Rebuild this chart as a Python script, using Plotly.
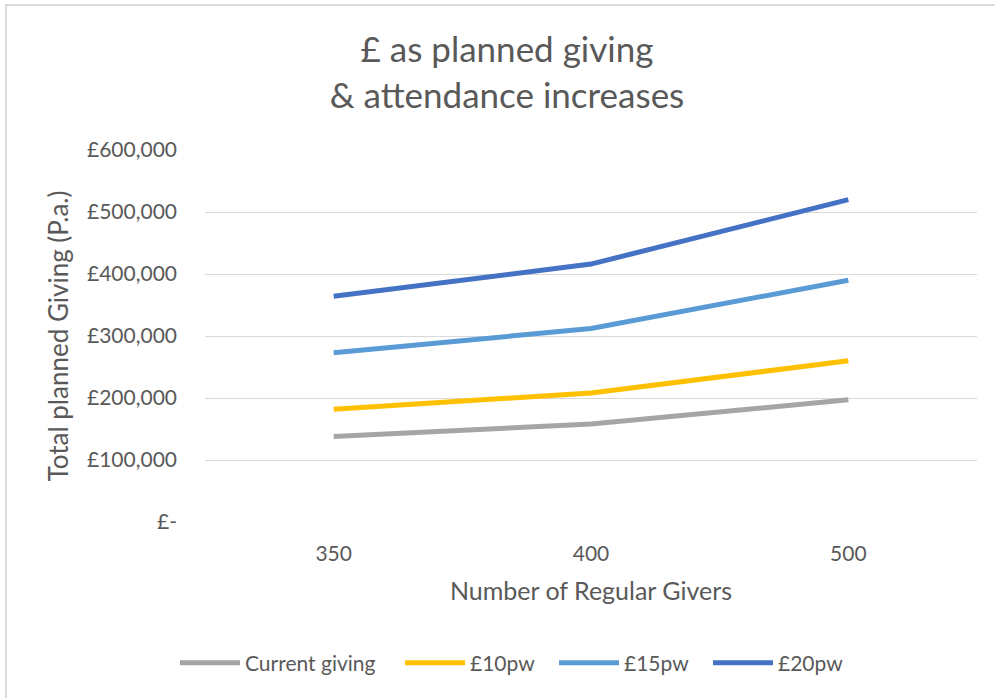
import plotly.graph_objects as go

categories = ["350", "400", "500"]
series_names = ["Current giving", "£10pw", "£15pw", "£20pw"]
current_giving = [138000, 158000, 197000]
pw10 = [182000, 208000, 260000]
pw15 = [273000, 312000, 390000]
pw20 = [364000, 416000, 520000]
colors = ["#A5A5A5", "#FFC000", "#5B9BD5", "#4472C4"]
y_tickvals = [0, 100000, 200000, 300000, 400000, 500000, 600000]
y_ticktext = ["£-", "£100,000", "£200,000", "£300,000", "£400,000", "£500,000", "£600,000"]

FONT = "Lato"
TXT = "#595959"

W, H = 995, 698
L, R, T, B = 205, 18, 150, 176
pw_ = W - L - R
ph_ = H - T - B


def px2paper_x(px):
    return (px - L) / pw_


def px2paper_y(py):
    return (H - B - py) / ph_


legend_ids = ["legend", "legend2", "legend3", "legend4"]
legend_px = [175, 400, 554, 708]

fig = go.Figure()
for name, vals, c, lg in zip(series_names, [current_giving, pw10, pw15, pw20], colors, legend_ids):
    fig.add_trace(go.Scatter(x=categories, y=vals, mode="lines", name=name,
                             line=dict(color=c, width=5), legend=lg))

fig.add_shape(type="rect", xref="paper", yref="paper",
              x0=px2paper_x(6), y0=px2paper_y(5), x1=px2paper_x(1010), y1=px2paper_y(720),
              line=dict(color="#D9D9D9", width=2), fillcolor="rgba(0,0,0,0)", layer="below")

legend_cfg = {}
for lg, lx in zip(legend_ids, legend_px):
    legend_cfg[lg] = dict(orientation="h", x=px2paper_x(lx), xanchor="left",
                          y=px2paper_y(663), yanchor="middle",
                          font=dict(family=FONT, size=21, color=TXT),
                          bgcolor="rgba(0,0,0,0)", itemwidth=60)

fig.update_layout(
    width=W, height=H,
    margin=dict(l=L, r=R, t=T, b=B, autoexpand=False),
    paper_bgcolor="white", plot_bgcolor="white",
    font=dict(family=FONT, color=TXT, size=21),
    title=dict(text="£ as planned giving<br>& attendance increases",
               x=507 / W, xref="container", xanchor="center",
               y=1 - 62 / H, yref="container", yanchor="middle",
               font=dict(family=FONT, size=35, color=TXT)),
    xaxis=dict(type="category", range=[-0.5, 2.5], showgrid=False, zeroline=False, showline=False,
               ticks="", ticklabelstandoff=17, tickfont=dict(size=21, color=TXT),
               title=dict(text="Number of Regular Givers", font=dict(size=25, color=TXT), standoff=18)),
    yaxis=dict(range=[0, 600000], tickvals=y_tickvals, ticktext=y_ticktext,
               showgrid=True, gridcolor="#D9D9D9", gridwidth=1.3, zeroline=False, showline=False,
               ticks="", ticklabelstandoff=27, tickfont=dict(size=21, color=TXT),
               title=dict(text="Total planned Giving (P.a.)", font=dict(size=26, color=TXT), standoff=10)),
    showlegend=True,
    **legend_cfg,
)

fig.write_html("out.html", config={"displayModeBar": False},
               post_script="document.body.style.margin='0';document.body.style.overflow='hidden';")
